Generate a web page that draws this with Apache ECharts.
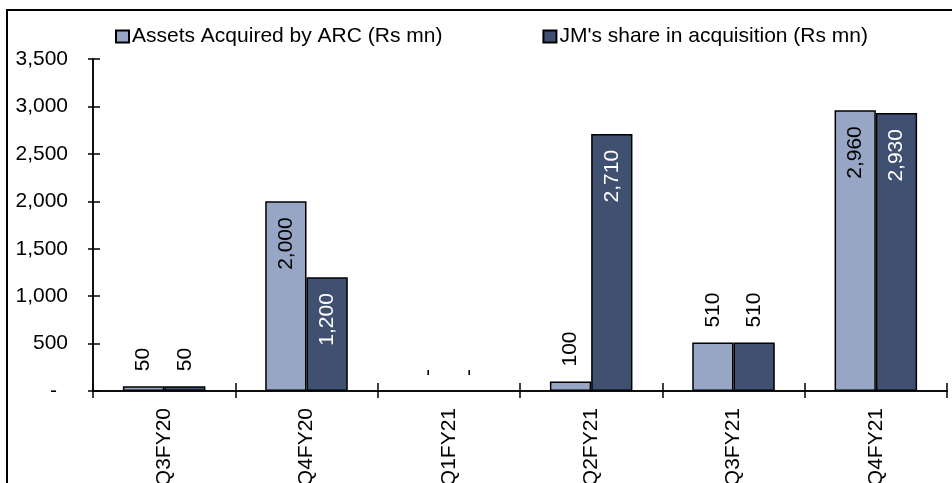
<!DOCTYPE html>
<html>
<head>
<meta charset="utf-8">
<script src="https://cdn.jsdelivr.net/npm/echarts@6/dist/echarts.min.js"></script>
<style>
  html, body { margin: 0; padding: 0; background: #fff; }
  #chart { width: 952px; height: 483px; }
</style>
</head>
<body>
<div id="chart"></div>
<script>
const categories = ['Q3FY20', 'Q4FY20', 'Q1FY21', 'Q2FY21', 'Q3FY21', 'Q4FY21'];
const assetsAcquired = [50, 2000, 0, 100, 510, 2960];
const jmShare = [50, 1200, 0, 2710, 510, 2930];
const yTicks = [0, 500, 1000, 1500, 2000, 2500, 3000, 3500];

const FONT = '"Liberation Sans", Arial, sans-serif';
const FS = 21;
const lightColor = '#97A6C4';
const darkColor = '#3F5070';

const fmt = (v) => (v === 0 ? '-' : v.toLocaleString('en-US'));

// big values get their label inside the bar, small ones above it
const buildData = (values, insideColor) =>
  values.map((v) => {
    if (v >= 1000) {
      return {
        value: v,
        label: {
          position: 'insideTop',
          distance: 16,
          align: 'right',
          color: insideColor
        }
      };
    }
    return {
      value: v,
      // no outline on empty bars
      itemStyle: v === 0 ? { borderWidth: 0, borderColor: 'transparent' } : undefined,
      label: {
        position: 'top',
        distance: 15,
        align: 'left',
        color: '#000'
      }
    };
  });

const barLabel = {
  show: true,
  rotate: 90,
  verticalAlign: 'middle',
  fontFamily: FONT,
  fontSize: FS,
  formatter: (p) => fmt(p.value)
};

const chart = echarts.init(document.getElementById('chart'));

chart.setOption({
  animation: false,
  textStyle: { fontFamily: FONT },
  graphic: [
    {
      type: 'rect',
      z: -10,
      shape: { x: 7, y: 10, width: 1000, height: 600 },
      style: { fill: 'none', stroke: '#000', lineWidth: 2 }
    }
  ],
  legend: {
    top: 21,
    left: 110,
    itemGap: 100,
    itemWidth: 13,
    itemHeight: 12,
    icon: 'rect',
    textStyle: { fontSize: FS, color: '#000', fontFamily: FONT, padding: [0, 0, 0, -2] },
    data: ['Assets Acquired by ARC (Rs mn)', "JM's share in acquisition (Rs mn)"]
  },
  grid: { left: 93, right: 5, top: 59, bottom: 92, outerBoundsMode: 'none', containLabel: false },
  xAxis: [
    {
      type: 'category',
      data: categories,
      axisLine: { lineStyle: { color: '#000', width: 1.5 } },
      axisTick: { show: true, length: 7, lineStyle: { color: '#000', width: 1.5 } },
      axisLabel: { rotate: 90, margin: 17, fontSize: FS, color: '#000', fontFamily: FONT }
    },
    {
      type: 'category',
      position: 'bottom',
      data: categories,
      axisLine: { lineStyle: { color: '#000', width: 1.5 } },
      axisTick: { show: true, inside: true, length: 8, lineStyle: { color: '#000', width: 1.5 } },
      axisLabel: { show: false }
    }
  ],
  yAxis: [
    {
      type: 'value',
      min: yTicks[0],
      max: yTicks[yTicks.length - 1],
      interval: 500,
      splitLine: { show: false },
      axisLine: { show: true, lineStyle: { color: '#000', width: 1.5 } },
      axisTick: { show: true, length: 5, lineStyle: { color: '#000', width: 1.5 } },
      axisLabel: {
        margin: 25,
        fontSize: FS,
        color: '#000',
        fontFamily: FONT,
        formatter: (v) => (v === 0 ? '{d|-}' : v.toLocaleString('en-US')),
        rich: { d: { fontSize: FS, color: '#000', padding: [0, 11, 0, 0] } }
      }
    },
    {
      type: 'value',
      position: 'left',
      offset: 0,
      min: yTicks[0],
      max: yTicks[yTicks.length - 1],
      interval: 500,
      splitLine: { show: false },
      axisLine: { show: true, lineStyle: { color: '#000', width: 1.5 } },
      axisTick: { show: true, inside: true, length: 7, lineStyle: { color: '#000', width: 1.5 } },
      axisLabel: { show: false }
    }
  ],
  series: [
    {
      name: 'Assets Acquired by ARC (Rs mn)',
      type: 'bar',
      barGap: '0%',
      barCategoryGap: '42%',
      itemStyle: { color: lightColor, borderColor: '#000', borderWidth: 1.5 },
      label: barLabel,
      data: buildData(assetsAcquired, '#000')
    },
    {
      name: "JM's share in acquisition (Rs mn)",
      type: 'bar',
      barGap: '0%',
      barCategoryGap: '42%',
      itemStyle: { color: darkColor, borderColor: '#000', borderWidth: 1.5 },
      label: barLabel,
      data: buildData(jmShare, '#fff')
    }
  ]
});
</script>
</body>
</html>
